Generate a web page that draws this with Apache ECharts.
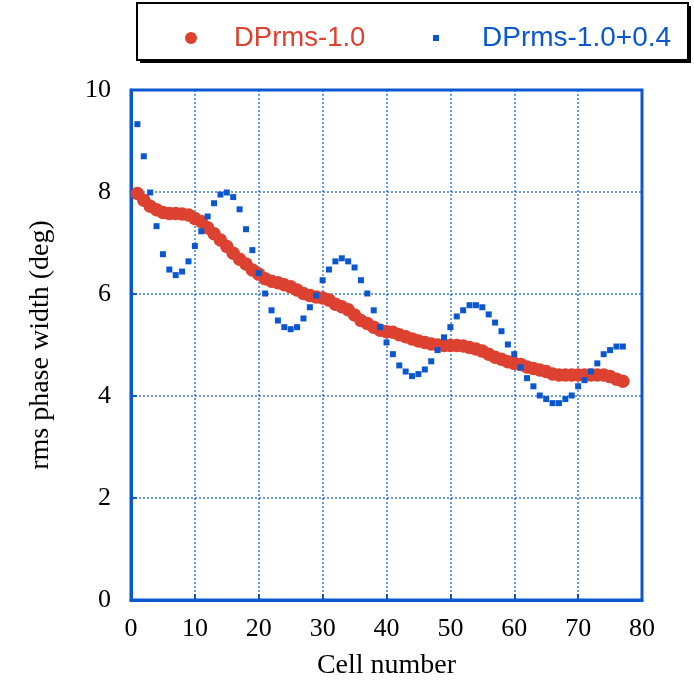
<!DOCTYPE html>
<html><head><meta charset="utf-8">
<script src="https://cdn.jsdelivr.net/npm/echarts@6/dist/echarts.min.js"></script>
<style>html,body{margin:0;padding:0;background:#fff}#c{width:694px;height:689px}</style>
</head><body><div id="c"></div>
<script>
const cells = [];
for (let i = 1; i <= 77; i++) cells.push(i);
const dprms = [7.97,7.84,7.72,7.65,7.6,7.58,7.58,7.57,7.55,7.48,7.42,7.3,7.18,7.06,6.93,6.8,6.68,6.59,6.47,6.39,
  6.3,6.25,6.22,6.18,6.14,6.08,6.01,5.97,5.94,5.92,5.88,5.8,5.75,5.69,5.59,5.48,5.42,5.35,5.29,5.26,
  5.25,5.2,5.16,5.12,5.08,5.05,5.02,5.0,4.99,4.99,4.99,4.98,4.95,4.92,4.88,4.82,4.76,4.72,4.67,4.64,
  4.62,4.57,4.54,4.51,4.48,4.43,4.41,4.41,4.41,4.41,4.41,4.41,4.41,4.41,4.38,4.33,4.29];
const dprmsShift = [9.33,8.7,7.99,7.33,6.78,6.48,6.37,6.44,6.64,6.94,7.23,7.52,7.78,7.95,7.99,7.9,7.66,7.27,6.86,6.41,
  6.01,5.68,5.48,5.35,5.31,5.35,5.52,5.74,5.97,6.27,6.48,6.64,6.7,6.64,6.52,6.27,6.01,5.68,5.35,5.05,
  4.82,4.6,4.48,4.39,4.43,4.52,4.68,4.9,5.15,5.35,5.56,5.68,5.78,5.78,5.74,5.6,5.44,5.27,5.01,4.82,
  4.56,4.35,4.19,4.01,3.94,3.86,3.86,3.94,4.01,4.19,4.31,4.48,4.64,4.82,4.9,4.97,4.97];
const seriesNames = ['DPrms-1.0', 'DPrms-1.0+0.4'];
const xTicks = [0, 80, 10];
const yTicks = [0, 10, 2];

const RED = '#dd4130', BLUE = '#0b57d0';
const chart = echarts.init(document.getElementById('c'));
const serif = 'Liberation Serif';
chart.setOption({
  animation: false,
  backgroundColor: '#fff',
  graphic: [
    {type: 'rect', shape: {x: 140, y: 6, width: 551, height: 57}, style: {fill: '#000'}, z: 0},
    {type: 'rect', shape: {x: 137, y: 3, width: 551, height: 57}, style: {fill: '#fff', stroke: '#000', lineWidth: 2}, z: 1}
  ],
  legend: [
    {data: [{name: seriesNames[0], icon: 'circle'}], left: 180, top: 19, itemWidth: 12, itemHeight: 12, z: 5,
     textStyle: {color: RED, fontFamily: 'Liberation Sans', fontSize: 27.5, padding: [0, 0, 0, 32]}},
    {data: [{name: seriesNames[1], icon: 'rect'}], left: 428, top: 19, itemWidth: 6, itemHeight: 6, z: 5,
     textStyle: {color: BLUE, fontFamily: 'Liberation Sans', fontSize: 28, padding: [0, 0, 0, 38]}}
  ],
  grid: {left: 131, right: 52, top: 90, bottom: 89, show: true, borderColor: BLUE, borderWidth: 3},
  xAxis: {
    type: 'value', min: xTicks[0], max: xTicks[1], interval: xTicks[2],
    name: 'Cell number', nameLocation: 'middle', nameGap: 52,
    nameTextStyle: {fontFamily: serif, fontSize: 28, color: '#000'},
    axisLine: {show: true, lineStyle: {color: BLUE, width: 3}},
    axisTick: {show: true, inside: true, length: 6, lineStyle: {color: BLUE, width: 2}},
    axisLabel: {fontFamily: serif, fontSize: 26, color: '#000', margin: 16},
    splitLine: {show: true, lineStyle: {color: BLUE, width: 1.5, type: [2, 2], opacity: 0.8}}
  },
  yAxis: {
    type: 'value', min: yTicks[0], max: yTicks[1], interval: yTicks[2],
    name: 'rms phase width (deg)', nameLocation: 'middle', nameGap: 76,
    nameTextStyle: {fontFamily: serif, fontSize: 28, color: '#000'},
    axisLine: {show: true, lineStyle: {color: BLUE, width: 3}},
    axisTick: {show: true, inside: true, length: 6, lineStyle: {color: BLUE, width: 2}},
    axisLabel: {fontFamily: serif, fontSize: 26, color: '#000', margin: 20},
    splitLine: {show: true, lineStyle: {color: BLUE, width: 1.5, type: [2, 2], opacity: 0.8}}
  },
  series: [
    {name: seriesNames[0], type: 'scatter', symbol: 'circle', symbolSize: 13.5,
     itemStyle: {color: RED, opacity: 1}, data: cells.map((c, i) => [c, dprms[i]])},
    {name: seriesNames[1], type: 'scatter', symbol: 'rect', symbolSize: 6,
     itemStyle: {color: BLUE, opacity: 1}, data: cells.map((c, i) => [c, dprmsShift[i]])}
  ]
});
</script></body></html>
